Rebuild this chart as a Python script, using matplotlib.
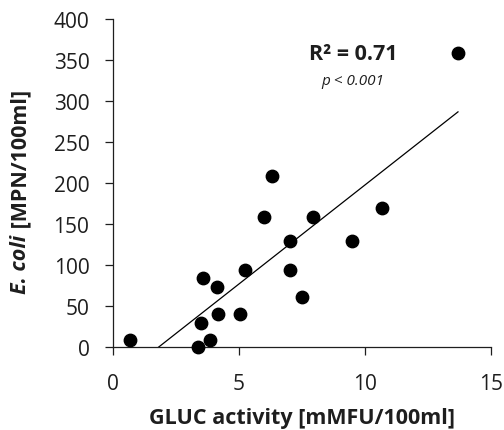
import numpy as np
import matplotlib.pyplot as plt

# GLUC activity [mMFU/100ml] vs E. coli [MPN/100ml]
gluc = [0.67, 3.38, 3.5, 3.56, 3.85, 4.14, 4.18, 5.04, 5.24, 6.0, 6.32,
        7.02, 7.02, 7.5, 7.92, 9.5, 10.69, 13.69]
ecoli = [8, 0, 29, 84, 8.5, 73, 40, 40, 94, 158, 208,
         129, 94, 61, 158, 129, 169, 358]
xticks = [0, 5, 10, 15]
yticks = [0, 50, 100, 150, 200, 250, 300, 350, 400]

plt.rcParams['font.family'] = ['Open Sans', 'DejaVu Sans']
ink = '#1e1e1e'

fig = plt.figure(figsize=(5.04, 4.31), dpi=100)
ax = fig.add_axes([113 / 504, 1 - 347.7 / 431, 378 / 504, 328.2 / 431])

ax.scatter(gluc, ecoli, s=80, color='black', zorder=3, clip_on=False)

# linear trendline over the data range
x = np.array(gluc)
slope, icpt = np.polyfit(x, ecoli, 1)
xl = np.array([x.min(), x.max()])
ax.plot(xl, slope * xl + icpt, color='black', lw=0.9)

ax.set_xlim(0, 15)
ax.set_ylim(0, 400)
ax.set_xticks(xticks)
ax.set_yticks(yticks)
ax.tick_params(labelsize=15, length=6, width=0.9, color=ink, labelcolor=ink)
ax.tick_params(axis='x', pad=13)
ax.tick_params(axis='y', pad=11)
for s in ['top', 'right']:
    ax.spines[s].set_visible(False)
for s in ['left', 'bottom']:
    ax.spines[s].set_linewidth(0.9)
    ax.spines[s].set_color(ink)

ax.set_xlabel('GLUC activity [mMFU/100ml]', fontsize=15.5, fontweight='bold',
              color=ink, labelpad=9)

# y label: italic species name + plain unit
t1 = fig.text(21 / 504, 1 - 264 / 431, 'E. coli', rotation=90, fontsize=15.5,
              fontweight='bold', fontstyle='italic', color=ink,
              ha='center', va='center')
ax.annotate(' [MPN/100ml]', xy=(0.5, 1), xycoords=t1, rotation=90,
            fontsize=15.5, fontweight='bold', color=ink,
            ha='center', va='bottom', annotation_clip=False)

ax.text(9.52, 357, 'R² = 0.71', fontsize=15.5, fontweight='bold',
        ha='center', va='center', color=ink)
ax.text(9.52, 325, 'p < 0.001', fontsize=11, fontstyle='italic',
        ha='center', va='center', color=ink)

fig.savefig('out.png', dpi=100)
